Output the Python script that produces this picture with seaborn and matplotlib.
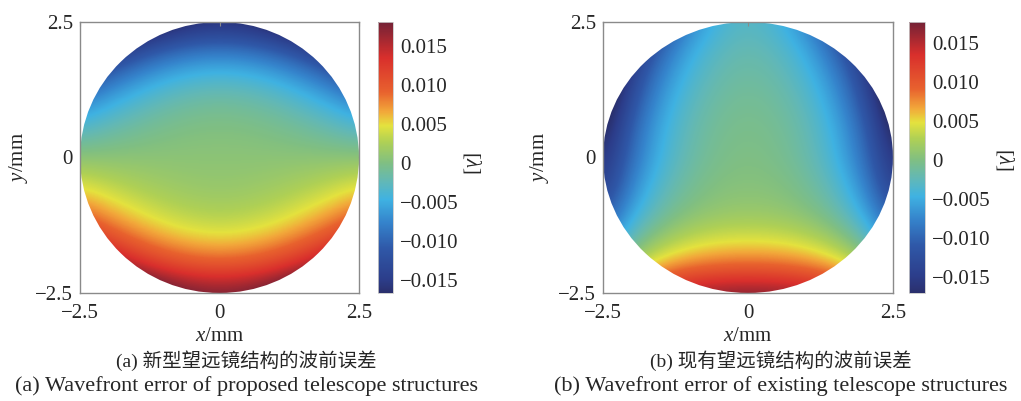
import numpy as np
import matplotlib
matplotlib.use("Agg")
import matplotlib.pyplot as plt
import seaborn as sns
from matplotlib.colors import LinearSegmentedColormap
from matplotlib.patches import Circle

# ---------------- data ----------------
# sample grid positions (mm)
x_mm = [-2.5, -2.0, -1.5, -1.0, -0.5, 0.0, 0.5, 1.0, 1.5, 2.0, 2.5]
y_mm = [2.5, 2.0, 1.5, 1.0, 0.5, 0.0, -0.5, -1.0, -1.5, -2.0, -2.5]   # rows, top -> bottom
SCALE = 1e-3  # grid values are in units of 1e-3 lambda

# (a) proposed telescope: wavefront error samples (rows follow y_mm, columns follow x_mm)
wfe_proposed = [
    [-32.3, -26.7, -22.3, -19.2, -17.3, -16.7, -17.3, -19.2, -22.3, -26.7, -32.3],
    [-21.2, -16.7, -13.2, -10.7, -9.2, -8.7, -9.2, -10.7, -13.2, -16.7, -21.2],
    [-13.1, -9.7, -7.1, -5.2, -4.1, -3.7, -4.1, -5.2, -7.1, -9.7, -13.1],
    [-7.3, -5.0, -3.3, -2.0, -1.3, -1.0, -1.3, -2.0, -3.3, -5.0, -7.3],
    [-2.9, -1.8, -0.9, -0.3, 0.1, 0.2, 0.1, -0.3, -0.9, -1.8, -2.9],
    [0.7, 0.7, 0.7, 0.7, 0.7, 0.7, 0.7, 0.7, 0.7, 0.7, 0.7],
    [4.3, 3.2, 2.3, 1.7, 1.3, 1.2, 1.3, 1.7, 2.3, 3.2, 4.3],
    [8.7, 6.4, 4.7, 3.4, 2.7, 2.4, 2.7, 3.4, 4.7, 6.4, 8.7],
    [14.5, 11.1, 8.5, 6.6, 5.5, 5.1, 5.5, 6.6, 8.5, 11.1, 14.5],
    [22.6, 18.1, 14.6, 12.1, 10.6, 10.1, 10.6, 12.1, 14.6, 18.1, 22.6],
    [33.7, 28.1, 23.7, 20.6, 18.7, 18.1, 18.7, 20.6, 23.7, 28.1, 33.7],
]

# (b) existing telescope: wavefront error samples
wfe_existing = [
    [-32.0, -21.0, -13.0, -7.5, -4.2, -3.0, -4.2, -7.5, -13.0, -21.0, -32.0],
    [-26.0, -16.5, -9.8, -5.2, -2.8, -2.0, -2.8, -5.2, -9.8, -16.5, -26.0],
    [-23.9, -13.7, -7.5, -3.8, -1.9, -1.3, -1.9, -3.8, -7.5, -13.7, -23.9],
    [-21.0, -11.7, -6.0, -2.8, -1.2, -0.7, -1.2, -2.8, -6.0, -11.7, -21.0],
    [-18.7, -10.0, -4.9, -2.1, -0.7, -0.3, -0.7, -2.1, -4.9, -10.0, -18.7],
    [-16.5, -9.0, -4.3, -1.7, -0.4, 0.0, -0.4, -1.7, -4.3, -9.0, -16.5],
    [-14.9, -7.4, -3.1, -0.9, 0.2, 0.4, 0.2, -0.9, -3.1, -7.4, -14.9],
    [-11.8, -5.3, -1.6, 0.3, 1.1, 1.3, 1.1, 0.3, -1.6, -5.3, -11.8],
    [-8.5, -2.1, 1.4, 3.2, 4.0, 4.2, 4.0, 3.2, 1.4, -2.1, -8.5],
    [-3.5, 2.8, 6.3, 8.0, 8.8, 9.0, 8.8, 8.0, 6.3, 2.8, -3.5],
    [4.8, 11.2, 14.7, 16.5, 17.3, 17.5, 17.3, 16.5, 14.7, 11.2, 4.8],
]

color_limits = [(-0.0167, 0.0181), (-0.0171, 0.0177)]
cbar_ticks = [-0.015, -0.010, -0.005, 0.0, 0.005, 0.010, 0.015]
cbar_tick_labels = ["\u22120.015", "\u22120.010", "\u22120.005", "0", "0.005", "0.010", "0.015"]
axis_ticks = [-2.5, 0.0, 2.5]
axis_tick_labels = ["\u22122.5", "0", "2.5"]
captions_cn = ["(a) 新型望远镜结构的波前误差", "(b) 现有望远镜结构的波前误差"]
captions_en = ["(a) Wavefront error of proposed telescope structures",
               "(b) Wavefront error of existing telescope structures"]

# colour stops of the jet-like map (value, colour)
cmap_values = [-0.0172, -0.0150, -0.0110, -0.0076, -0.0047, -0.0024, 0.0000,
               0.0027, 0.0048, 0.0066, 0.0091, 0.0135, 0.0182]
cmap_colors = ["#2a2f6c", "#2c3d8a", "#2f58a8", "#3584cc", "#3fb2e2", "#62b8b6", "#80bf82",
               "#afd055", "#e4e23e", "#f2a83a", "#e8622e", "#d92f2c", "#742236"]

# ---------------- style ----------------
sns.set_theme(style="white")
plt.rcParams["font.family"] = ["Liberation Serif", "Noto Sans CJK SC"]
plt.rcParams["mathtext.fontset"] = "custom"
plt.rcParams["mathtext.rm"] = "Liberation Serif"
plt.rcParams["mathtext.it"] = "Liberation Serif:italic"
plt.rcParams["axes.unicode_minus"] = True

W, H = 1021, 401
fig = plt.figure(figsize=(W / 100, H / 100), dpi=100)


def frac_box(x0, y0, x1, y1):
    return [x0 / W, 1 - y1 / H, (x1 - x0) / W, (y1 - y0) / H]


def make_cmap(vmin, vmax):
    stops = []
    for v, c in zip(cmap_values, cmap_colors):
        p = (v - vmin) / (vmax - vmin)
        stops.append((min(max(p, 0.0), 1.0), c))
    stops[0] = (0.0, stops[0][1])
    stops[-1] = (1.0, stops[-1][1])
    return LinearSegmentedColormap.from_list("wfe", stops, N=512)


panels = [
    dict(data=wfe_proposed, ax=(80, 22, 359, 293), cax=(378, 22, 393, 293),
         lam=(472, 163), cap_x=246),
    dict(data=wfe_existing, ax=(603, 22, 893, 293), cax=(909, 22, 925, 293),
         lam=(1005, 160), cap_x=781),
]

dx = x_mm[1] - x_mm[0]
extent = (x_mm[0] - dx / 2, x_mm[-1] + dx / 2, y_mm[-1] - dx / 2, y_mm[0] + dx / 2)
spine_col = "#8a8a8a"

for i, p in enumerate(panels):
    vmin, vmax = color_limits[i]
    cmap = make_cmap(vmin, vmax)
    ax = fig.add_axes(frac_box(*p["ax"]))
    vals = np.asarray(p["data"], dtype=float) * SCALE
    im = ax.imshow(vals, cmap=cmap, vmin=vmin, vmax=vmax, extent=extent,
                   origin="upper", interpolation="bicubic", aspect="auto")
    im.set_clip_path(Circle((0, 0), 2.5, transform=ax.transData))
    ax.set_xlim(-2.5, 2.5)
    ax.set_ylim(-2.5, 2.5)
    ax.set_xticks(axis_ticks)
    ax.set_xticklabels(axis_tick_labels)
    ax.set_yticks(axis_ticks)
    ax.set_yticklabels(axis_tick_labels)
    ax.tick_params(axis="both", direction="in", length=3, width=0.8, color=spine_col,
                   labelsize=15, top=True, right=False)
    ax.tick_params(axis="x", pad=8)
    ax.tick_params(axis="y", pad=5)
    for s in ax.spines.values():
        s.set_color(spine_col)
        s.set_linewidth(1.0)
    ax.set_xlabel("$x$/mm", fontsize=15)
    ax.set_ylabel("$y$/mm", fontsize=15)
    ax.xaxis.set_label_coords(0.5, -0.16)
    ax.yaxis.set_label_coords(-0.22, 0.5)
    ax.xaxis.label.set_va("center")
    ax.yaxis.label.set_va("center")
    ax.grid(False)

    cax = fig.add_axes(frac_box(*p["cax"]))
    cb = fig.colorbar(im, cax=cax, ticks=cbar_ticks)
    cb.ax.set_yticklabels(cbar_tick_labels)
    cb.ax.tick_params(length=0, pad=5, labelsize=15)
    cb.outline.set_edgecolor("#c8c8c8")
    cb.outline.set_linewidth(0.6)

    lx, ly = p["lam"]
    fig.text(lx / W, 1 - ly / H, "[$\\lambda$]", rotation=270, ha="center", va="center",
             fontsize=15)

    fig.text(p["cap_x"] / W, 1 - 361 / H, captions_cn[i], ha="center", va="center",
             fontsize=14, family=["Liberation Serif", "Noto Sans CJK SC"])
    fig.text(p["cap_x"] / W, 1 - 386 / H, captions_en[i], ha="center", va="center",
             fontsize=16, family=["Liberation Serif", "Noto Sans CJK SC"])

fig.savefig("out.png", dpi=100)
